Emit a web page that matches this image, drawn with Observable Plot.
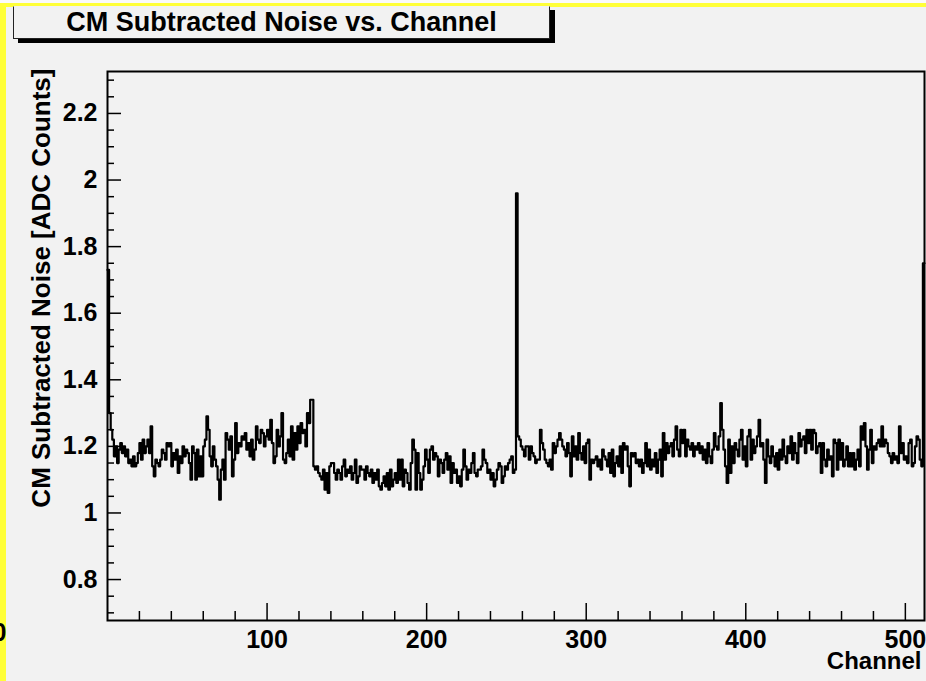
<!DOCTYPE html>
<html>
<head>
<meta charset="utf-8">
<script src="https://cdn.jsdelivr.net/npm/d3@7"></script>
<script src="https://cdn.jsdelivr.net/npm/@observablehq/plot@0.6"></script>
<style>
  html, body { margin: 0; padding: 0; background: #f2f2f2; }
  #wrap { position: relative; width: 926px; height: 681px; overflow: hidden; background: #f2f2f2; font-family: "Liberation Sans", Arial, sans-serif; }
  #topstrip { position: absolute; left: 0; top: 0; width: 926px; height: 3px; background: #fafafa; }
  #yTop { position: absolute; left: 0; top: 3px; width: 926px; height: 4px; background: #ffff38; }
  #yLeft { position: absolute; left: 0; top: 3px; width: 6px; height: 678px; background: #ffff38; }
  #chart { position: absolute; left: 0; top: 0; }
  #title { position: absolute; left: 13px; top: 6px; width: 535px; height: 31px; border: 1.5px solid #222; border-top-color: #f2f2f2; background: #f2f2f2;
           box-shadow: 5px 4px 0 #000; font-weight: bold; font-size: 27px; line-height: 31px; text-align: center; color: #000; }
</style>
</head>
<body>
<div id="wrap">
  <div id="topstrip"></div>
  <div id="yTop"></div>
  <div id="yLeft"></div>
  <div id="chart"></div>
  <div id="title">CM Subtracted Noise vs. Channel</div>
</div>
<script>
// Noise per channel (ADC counts), four blocks of 128 channels
const noiseChip1 = [
1.73,1.30,1.25,1.22,1.17,1.20,1.15,1.19,1.21,1.18,1.20,1.17,1.19,1.15,1.16,1.14,
1.17,1.14,1.15,1.18,1.21,1.16,1.22,1.18,1.20,1.22,1.18,1.26,1.14,1.11,1.16,1.15,
1.14,1.16,1.19,1.18,1.16,1.21,1.20,1.21,1.14,1.18,1.16,1.19,1.12,1.17,1.15,1.20,
1.17,1.19,1.18,1.15,1.10,1.20,1.18,1.10,1.19,1.11,1.17,1.11,1.20,1.22,1.29,1.25,
1.17,1.14,1.20,1.16,1.14,1.10,1.04,1.13,1.16,1.10,1.24,1.22,1.19,1.23,1.11,1.16,
1.27,1.18,1.21,1.20,1.23,1.22,1.24,1.19,1.21,1.17,1.22,1.16,1.19,1.26,1.22,1.21,
1.25,1.24,1.20,1.23,1.25,1.22,1.28,1.21,1.15,1.17,1.25,1.20,1.23,1.30,1.16,1.15,
1.18,1.22,1.17,1.26,1.16,1.24,1.19,1.26,1.21,1.27,1.24,1.25,1.20,1.30,1.27,1.34];
const noiseChip2 = [
1.34,1.14,1.13,1.14,1.12,1.11,1.10,1.13,1.07,1.12,1.06,1.14,1.15,1.15,1.12,1.10,
1.13,1.12,1.10,1.14,1.16,1.11,1.13,1.12,1.14,1.10,1.12,1.16,1.09,1.11,1.14,1.13,
1.13,1.10,1.14,1.12,1.11,1.13,1.09,1.12,1.10,1.13,1.08,1.07,1.09,1.11,1.08,1.12,
1.07,1.13,1.08,1.10,1.12,1.09,1.16,1.10,1.16,1.08,1.13,1.12,1.09,1.07,1.15,1.22,
1.19,1.07,1.18,1.12,1.07,1.10,1.14,1.19,1.16,1.12,1.19,1.20,1.16,1.18,1.17,1.11,
1.16,1.15,1.12,1.16,1.18,1.13,1.17,1.09,1.15,1.12,1.13,1.09,1.11,1.08,1.13,1.19,
1.14,1.10,1.13,1.12,1.15,1.18,1.12,1.11,1.13,1.13,1.14,1.19,1.16,1.15,1.12,1.13,
1.10,1.12,1.08,1.10,1.13,1.15,1.14,1.09,1.11,1.14,1.13,1.15,1.16,1.17,1.12,1.13];
const noiseChip3 = [
1.96,1.23,1.22,1.20,1.19,1.17,1.20,1.20,1.16,1.20,1.18,1.17,1.15,1.16,1.16,1.25,
1.21,1.19,1.16,1.15,1.14,1.16,1.13,1.21,1.18,1.20,1.22,1.24,1.22,1.20,1.19,1.17,
1.21,1.18,1.11,1.23,1.17,1.20,1.16,1.24,1.18,1.16,1.20,1.15,1.21,1.22,1.10,1.16,
1.15,1.16,1.17,1.14,1.16,1.13,1.19,1.17,1.16,1.14,1.18,1.12,1.19,1.11,1.15,1.17,
1.14,1.20,1.12,1.21,1.19,1.20,1.14,1.08,1.18,1.17,1.18,1.15,1.16,1.14,1.16,1.12,
1.15,1.21,1.14,1.19,1.13,1.16,1.14,1.18,1.12,1.16,1.19,1.11,1.24,1.16,1.21,1.18,
1.20,1.21,1.17,1.22,1.26,1.19,1.17,1.25,1.21,1.25,1.17,1.22,1.20,1.19,1.21,1.17,
1.20,1.19,1.21,1.18,1.20,1.16,1.19,1.15,1.21,1.17,1.15,1.19,1.24,1.20,1.19,1.23];
const noiseChip4 = [
1.33,1.25,1.19,1.14,1.09,1.22,1.12,1.20,1.15,1.21,1.19,1.17,1.22,1.25,1.16,1.20,
1.14,1.23,1.25,1.16,1.22,1.18,1.20,1.23,1.28,1.20,1.21,1.16,1.09,1.22,1.17,1.15,
1.20,1.17,1.14,1.18,1.13,1.19,1.16,1.22,1.17,1.15,1.20,1.18,1.23,1.16,1.21,1.18,
1.15,1.24,1.20,1.22,1.23,1.18,1.25,1.21,1.25,1.19,1.25,1.24,1.18,1.20,1.21,1.12,
1.21,1.16,1.14,1.19,1.16,1.17,1.11,1.22,1.21,1.13,1.22,1.16,1.21,1.14,1.16,1.20,
1.14,1.18,1.14,1.18,1.13,1.16,1.19,1.14,1.26,1.22,1.27,1.20,1.13,1.19,1.25,1.15,
1.20,1.19,1.21,1.22,1.20,1.26,1.20,1.22,1.21,1.18,1.17,1.15,1.18,1.16,1.17,1.15,
1.26,1.18,1.21,1.16,1.17,1.15,1.21,1.22,1.14,1.15,1.20,1.23,1.22,1.16,1.14,1.75];

const xMajorTicks = [100, 200, 300, 400, 500];
const xMinorTicks = [20,40,60,80,120,140,160,180,220,240,260,280,320,340,360,380,420,440,460,480];
const yMajorTicks = [0.8, 1.0, 1.2, 1.4, 1.6, 1.8, 2.0, 2.2];
const yMinorTicks = [0.7,0.75,0.85,0.9,0.95,1.05,1.1,1.15,1.25,1.3,1.35,1.45,1.5,1.55,1.65,1.7,1.75,1.85,1.9,1.95,2.05,2.1,2.15,2.25,2.3];
const xDomain = [0, 512];
const yDomain = [0.677, 2.326];
const xTitle = "Channel";
const yTitle = "CM Subtracted Noise [ADC Counts]";

const noise = [...noiseChip1, ...noiseChip2, ...noiseChip3, ...noiseChip4];
const steps = noise.map((v, c) => ({c, v}));
steps.push({c: noise.length, v: noise[noise.length - 1]});

const W = 926, H = 681, mL = 107, mR = 2, mT = 71, mB = 61;
const pw = W - mL - mR, ph = H - mT - mB;
const fmtY = d => (Math.abs(d - Math.round(d)) < 1e-9 ? String(Math.round(d)) : d.toFixed(1));

const plot = Plot.plot({
  width: W, height: H,
  marginLeft: mL, marginRight: mR, marginTop: mT, marginBottom: mB,
  style: {background: "transparent", fontFamily: "'Liberation Sans', Arial, sans-serif", fontWeight: "bold", fontSize: "25px", color: "#000"},
  x: {domain: xDomain},
  y: {domain: yDomain},
  marks: [
    Plot.line(steps, {x: "c", y: "v", curve: "step-after", stroke: "#000", strokeWidth: 2.2}),
    Plot.tickX(xMajorTicks, {x: d => d, insetTop: ph - 17, stroke: "#000", strokeWidth: 1.5}),
    Plot.tickX(xMinorTicks, {x: d => d, insetTop: ph - 9, stroke: "#000", strokeWidth: 1.5}),
    Plot.tickY(yMajorTicks, {y: d => d, insetRight: pw - 14, stroke: "#000", strokeWidth: 1.5}),
    Plot.tickY(yMinorTicks, {y: d => d, insetRight: pw - 7, stroke: "#000", strokeWidth: 1.5}),
    Plot.frame({stroke: "#000", strokeWidth: 2}),
    Plot.axisX(xMajorTicks, {tickSize: 0, tickPadding: 10, label: null, fontSize: 25, fontWeight: "bold"}),
    Plot.axisY(yMajorTicks, {tickSize: 0, tickPadding: 10, label: null, tickFormat: fmtY, fontSize: 25, fontWeight: "bold"}),
    Plot.text([xTitle], {frameAnchor: "bottom-right", dx: -3, dy: 41, textAnchor: "end", lineAnchor: "middle", fontSize: 24, fontWeight: "bold"}),
    Plot.text([yTitle], {frameAnchor: "top-left", dx: -66, dy: -3, rotate: -90, textAnchor: "end", lineAnchor: "middle", fontSize: 26, fontWeight: "bold"}),
    Plot.text(["0"], {frameAnchor: "bottom-left", dx: -115, dy: 12, textAnchor: "start", lineAnchor: "middle", fontSize: 25, fontWeight: "bold"})
  ]
});
document.getElementById("chart").appendChild(plot);
</script>
</body>
</html>
